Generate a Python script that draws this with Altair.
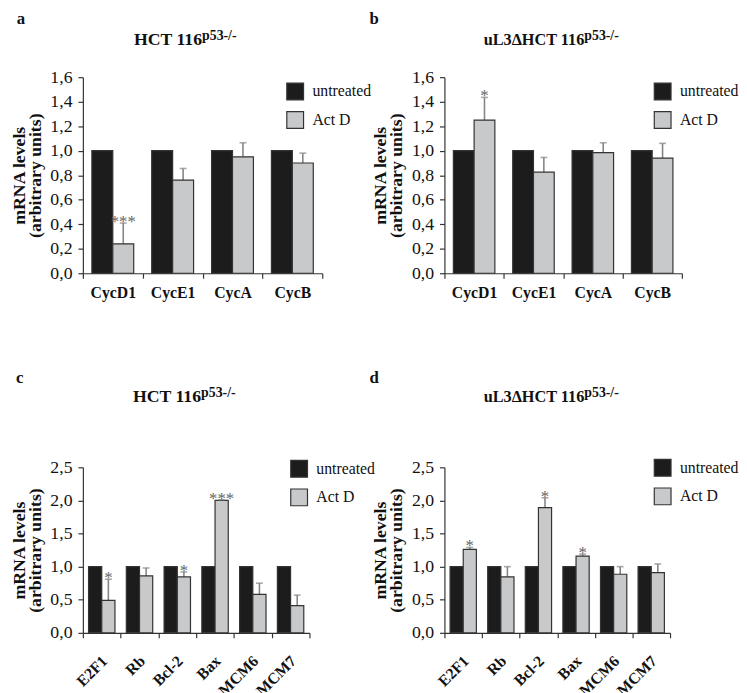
import altair as alt
import pandas as pd

FONT = "Liberation Serif"

treat = ["untreated", "Act D"]
genes_top = ["CycD1", "CycE1", "CycA", "CycB"]
genes_bot = ["E2F1", "Rb", "Bcl-2", "Bax", "MCM6", "MCM7"]

ctrl_a = [1.0, 1.0, 1.0, 1.0]
act_a = [0.24, 0.76, 0.95, 0.90]
err_a = [0.41, 0.855, 1.065, 0.98]
star_a = ["***", "", "", ""]

ctrl_b = [1.0, 1.0, 1.0, 1.0]
act_b = [1.25, 0.825, 0.985, 0.94]
err_b = [1.435, 0.945, 1.065, 1.06]
star_b = ["*", "", "", ""]

ctrl_c = [1.0, 1.0, 1.0, 1.0, 1.0, 1.0]
act_c = [0.49, 0.86, 0.845, 2.0, 0.58, 0.41]
err_c = [0.81, 0.98, 0.92, 2.01, 0.75, 0.57]
star_c = ["*", "", "*", "***", "", ""]

ctrl_d = [1.0, 1.0, 1.0, 1.0, 1.0, 1.0]
act_d = [1.26, 0.845, 1.89, 1.16, 0.885, 0.91]
err_d = [1.29, 1.0, 2.04, 1.19, 1.0, 1.04]
star_d = ["*", "", "*", "*", "", ""]

ticks_top = [0.0, 0.2, 0.4, 0.6, 0.8, 1.0, 1.2, 1.4, 1.6]
ticks_bot = [0.0, 0.5, 1.0, 1.5, 2.0, 2.5]

title_main = ["HCT 116", "uL3\u0394HCT 116", "HCT 116", "uL3\u0394HCT 116"]
title_sup = "p53-/-"
letters = ["a", "b", "c", "d"]
y_title = ["mRNA levels", "(arbitrary units)"]


def text_layer(t, x, y, size, weight="bold", align="left", color="#111111"):
    return alt.Chart(pd.DataFrame({"t": [t]})).mark_text(
        font=FONT, fontSize=size, fontWeight=weight, align=align,
        baseline="alphabetic", color=color, fill=color
    ).encode(x=alt.value(x), y=alt.value(y), text="t:N")


def panel(genes, ctrl, act, err, star, ticks, w, h, letter, main,
          letter_xy, split_x, title_y, title_size, leg_xy, rotate):
    rows = []
    for g, c, a, e, s in zip(genes, ctrl, act, err, star):
        rows.append(dict(gene=g, treatment="untreated", value=c, err=c, star=""))
        rows.append(dict(gene=g, treatment="Act D", value=a, err=e, star=s))
    df = pd.DataFrame(rows)

    xaxis = alt.Axis(
        labelFont=FONT, labelFontWeight="bold", labelFontSize=16,
        labelAngle=315 if rotate else 0, tickBand="extent", tickSize=5,
        labelPadding=15 if rotate else 7, labelOffset=-3 if rotate else 0,
        domainWidth=1.2, tickWidth=1.2,
        domainColor="#333333", tickColor="#333333", labelColor="#111111",
    )
    x = alt.X("gene:N", sort=genes, title=None,
              scale=alt.Scale(paddingInner=0, paddingOuter=0), axis=xaxis)
    xo = alt.XOffset("treatment:N", sort=treat,
                     scale=alt.Scale(paddingInner=0, paddingOuter=0.43))
    yaxis = alt.Axis(
        values=ticks, labelExpr="replace(format(datum.value, '.1f'), '.', ',')",
        labelFont=FONT, labelFontSize=18, labelColor="#111111", tickSize=5,
        labelPadding=6, grid=False, domainWidth=1.2, tickWidth=1.2,
        domainColor="#333333", tickColor="#333333",
        titleFont=FONT, titleFontSize=18, titleFontWeight="bold",
        titleColor="#111111", titlePadding=6, titleLineHeight=16,
    )
    yscale = alt.Scale(domain=[0, ticks[-1]], nice=False)
    y = alt.Y("value:Q", scale=yscale, axis=yaxis, title=y_title)
    yerr = alt.Y("err:Q", scale=yscale, axis=yaxis, title=y_title)
    color = alt.Color(
        "treatment:N", sort=treat,
        scale=alt.Scale(domain=treat, range=["#1c1c1c", "#c8c9ca"]),
        legend=alt.Legend(
            title=None, orient="none", legendX=leg_xy[0], legendY=leg_xy[1],
            symbolType="square", symbolSize=289, symbolStrokeColor="#333333",
            symbolStrokeWidth=1.2, labelFont=FONT, labelFontSize=16,
            labelColor="#111111", rowPadding=6, labelOffset=8, padding=0,
        ),
    )
    base = alt.Chart(df)
    bars = base.mark_bar(stroke="#333333", strokeWidth=1.2).encode(
        x=x, xOffset=xo, y=y, color=color)
    act_only = base.transform_filter(alt.datum.treatment == "Act D")
    rule = act_only.mark_rule(color="#858585", strokeWidth=1.6).encode(
        x=x, xOffset=xo, y=y, y2="err:Q")
    cap = act_only.mark_tick(color="#858585", thickness=1.6, size=7).encode(
        x=x, xOffset=xo, y=yerr)
    stars = act_only.transform_filter("datum.star != ''").mark_text(
        font=FONT, fontSize=17, color="#666666", fill="#666666",
        baseline="alphabetic", dy=4
    ).encode(x=x, xOffset=xo, y=yerr, text="star:N")

    lab = text_layer(letter, letter_xy[0], letter_xy[1], 17)
    t1 = text_layer(main, split_x, title_y, title_size, align="right")
    t2 = text_layer(title_sup, split_x, title_y - 5, 14)

    return alt.layer(rule, bars, cap, stars, lab, t1, t2).properties(width=w, height=h)


pa = panel(genes_top, ctrl_a, act_a, err_a, star_a, ticks_top, 243, 199, letters[0],
           title_main[0], (-67, -54), 121, -33, 18, (206, 5), False)
pb = panel(genes_top, ctrl_b, act_b, err_b, star_b, ticks_top, 241, 199, letters[1],
           title_main[1], (-76, -54), 142, -33, 16.5, (212, 5), False)
pc = panel(genes_bot, ctrl_c, act_c, err_c, star_c, ticks_bot, 230, 168, letters[2],
           title_main[2], (-68, -86), 120, -66, 18, (210, -8), True)
pd_ = panel(genes_bot, ctrl_d, act_d, err_d, star_d, ticks_bot, 229, 168, letters[3],
            title_main[3], (-76, -86), 142, -66, 16.5, (212, -9), True)

chart = alt.concat(
    pa, pb, pc, pd_, columns=2, spacing={"row": 197, "column": 124},
    bounds="flush", align="each",
).resolve_scale(color="independent", xOffset="independent").resolve_legend(
    color="independent"
).configure_view(stroke=None).properties(
    padding={"left": 2, "top": -3, "right": 0, "bottom": 0}, background="white"
)

chart.save("out.html", embed_options={"renderer": "svg", "actions": False})
